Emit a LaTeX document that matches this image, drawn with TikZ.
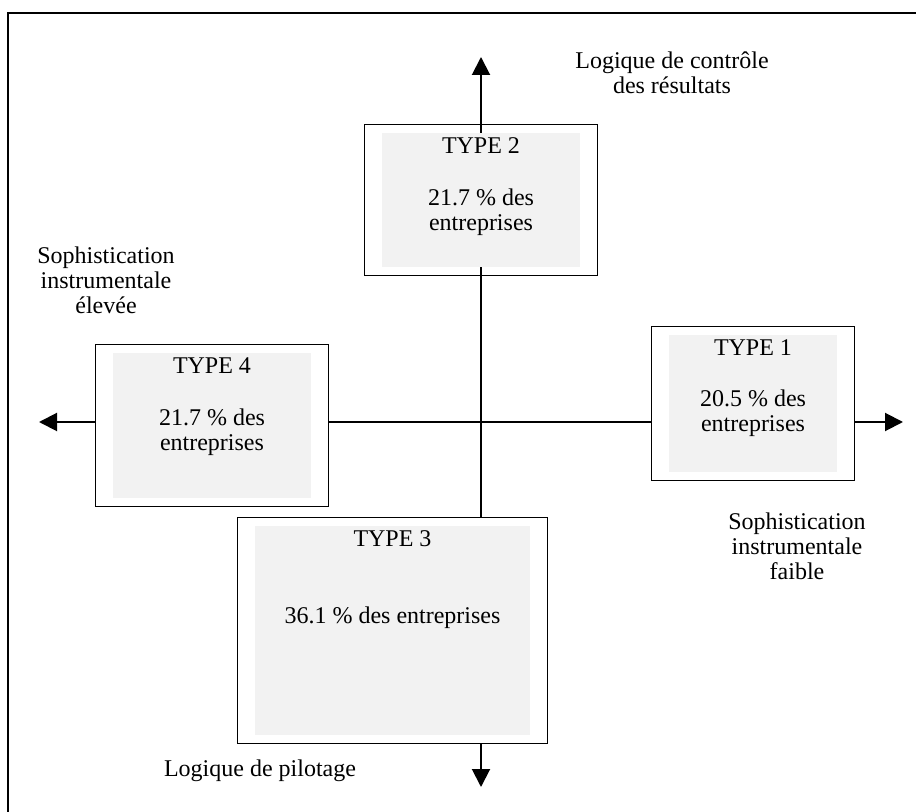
\documentclass[tikz,border=0pt]{standalone}
\usepackage{fontspec}
\setmainfont{Liberation Serif}
\usetikzlibrary{positioning, arrows.meta, fit}
\definecolor{boxgray}{RGB}{242,242,242}

\begin{document}
\begin{tikzpicture}[
        x=0.5pt, y=-0.5pt,
        every node/.style={font=\fontsize{12}{12.5}\selectfont},
        shade/.style={rectangle, fill=boxgray, inner sep=0pt},
        frame/.style={rectangle, draw, line width=0.8pt, inner xsep=8.5pt, inner ysep=4pt},
        typetext/.style={align=center, inner sep=0pt},
        axislabel/.style={align=center, inner sep=0pt, anchor=north},
        axis/.style={line width=1pt},
        arrow/.style={line width=1pt, -{Triangle[length=9pt, width=9pt]}}
    ]
    \useasboundingbox (0,0) rectangle (916,812);
    \clip (0,0) rectangle (916,812);
    \draw[line width=0.6pt] (8,13) rectangle (940,840);

    \node[shade, minimum width=99pt, minimum height=67pt] (type2in) at (481,200) {};
    \node[frame, fit=(type2in)] (type2) {};
    \node[typetext, below=2.2pt of type2in.north] (type2txt) {TYPE 2\\[13.5pt]21.7 \% des\\entreprises};

    \node[shade, minimum width=99pt, minimum height=72.5pt] (type4in) at (212,425.5) {};
    \node[frame, fit=(type4in)] (type4) {};
    \node[typetext, below=2.2pt of type4in.north] (type4txt) {TYPE 4\\[13.5pt]21.7 \% des\\entreprises};

    \node[shade, minimum width=84pt, minimum height=68.5pt] (type1in) at (753,403.5) {};
    \node[frame, fit=(type1in)] (type1) {};
    \node[typetext, below=2.2pt of type1in.north] (type1txt) {TYPE 1\\[13pt]20.5 \% des\\entreprises};

    \node[shade, minimum width=137.5pt, minimum height=104.5pt] (type3in) at (392.5,630.5) {};
    \node[frame, fit=(type3in)] (type3) {};
    \node[typetext, below=2.2pt of type3in.north] (type3txt) {TYPE 3\\[26pt]36.1 \% des entreprises};

    \node[axislabel] (resultats) at (672,51) {Logique de contrôle\\des résultats};
    \node[axislabel] (elevee) at (106,246) {Sophistication\\instrumentale\\élevée};
    \node[axislabel] (faible) at (797,512.5) {Sophistication\\instrumentale\\faible};
    \node[axislabel] (pilotage) at (260,759.5) {Logique de pilotage};

    \coordinate (o) at (481,422);
    \coordinate (top) at (481,57);
    \coordinate (bottom) at (481,787);
    \coordinate (left) at (39,422);
    \coordinate (right) at (903,422);

    \draw[axis] (type2in) -- (type3.north -| o);
    \draw[axis] (type4.east |- o) -- (type1.west |- o);
    \draw[arrow] (type2in.north) -- (top);
    \draw[arrow] (type3.south -| o) -- (bottom);
    \draw[arrow] (type4.west |- o) -- (left);
    \draw[arrow] (type1.east |- o) -- (right);
\end{tikzpicture}
\end{document}
